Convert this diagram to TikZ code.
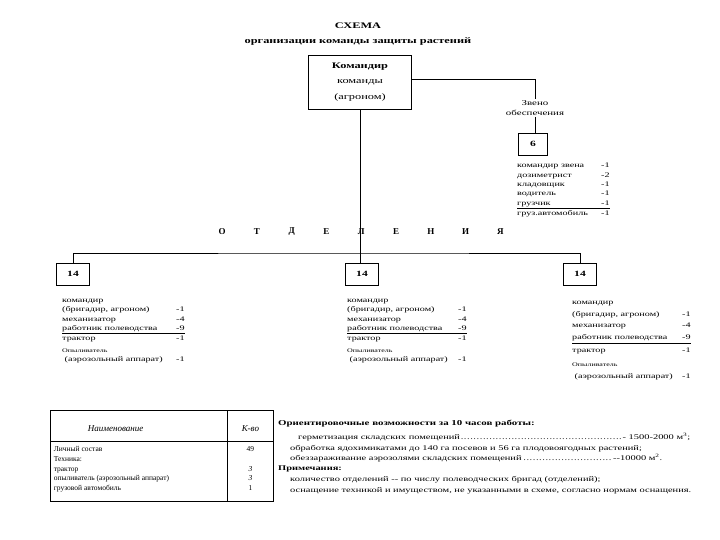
\documentclass[tikz,border=0pt]{standalone}
\usepackage{fontspec}
\usepackage{array}
\setmainfont{Liberation Serif}
\newfontfamily\widefont[FakeStretch=1.45]{Liberation Serif}
\usetikzlibrary{calc, positioning}

% staff of one department: #1 text column, #2 row spacing
\newcommand{\brigade}[2]{%
  \fontsize{7}{#2}\selectfont
  \begin{tabular}{@{}p{#1}@{}r@{}}
    командир & \\
    (бригадир, агроном) & -1\\
    механизатор & -4\\
    работник полеводства & -9\\ \noalign{\hrule height 0.9pt}
    трактор & -1\\[3pt]
    {\fontsize{5.5}{6}\selectfont Опыливатель} & \\
    \ (аэрозольный аппарат) & -1
  \end{tabular}}

\begin{document}
\begin{tikzpicture}[x=1pt, y=-1pt,
    unitbox/.style={draw, line width=0.8pt, minimum width=33pt, minimum height=22pt,
      inner sep=0pt, font=\widefont\bfseries\fontsize{8}{8}\selectfont},
    link/.style={line width=0.7pt},
    staff/.style={anchor=north west, inner sep=0pt, font=\widefont}]
  \useasboundingbox (0,0) rectangle (720,540);

  \node[align=center, font=\widefont\bfseries\fontsize{8.5}{15.5}\selectfont] (title) at (358,34)
    {СХЕМА\\организации команды защиты растений};

  % commander and supply unit
  \node[draw, line width=0.8pt, minimum width=103pt, minimum height=54pt, align=center,
    font=\widefont\fontsize{8.5}{15.5}\selectfont] (cmd) at (360,82)
    {\textbf{Командир}\\команды\\(агроном)};
  \node[align=center, inner sep=1pt, font=\widefont\fontsize{7.5}{10.5}\selectfont] (zveno) at (535,108)
    {Звено\\обеспечения};
  \node[unitbox, minimum width=29pt] (b6) at (533,144) {6};
  \node[staff] (supply) at (517,161) {\fontsize{7}{9.4}\selectfont
    \begin{tabular}{@{}p{84pt}@{}r@{}}
      командир звена & -1\\
      дозиметрист & -2\\
      кладовщик & -1\\
      водитель & -1\\
      грузчик & -1\\ \noalign{\hrule height 1pt}
      груз.автомобиль & -1
    \end{tabular}};
  \draw[link] ([yshift=3pt]cmd.east) -| (zveno.north);
  \draw[link] (zveno.south) -- (zveno.south |- b6.north);

  % departments
  \foreach \ch [count=\i] in {О,Т,Д,Е,Л,Е,Н,И,Я}
    \node[font=\bfseries\fontsize{9}{9}\selectfont] (sep\i) at ({222+(\i-1)*34.8},232) {\ch};
  \node[unitbox] (left) at (73,274) {14};
  \node[unitbox] (mid) at (362,274) {14};
  \node[unitbox] (right) at (580,274) {14};
  \coordinate (bus) at (360,253);
  \draw[link] (cmd.south) -- (bus);
  \draw[link] (left.north) |- (bus) -| (right.north);
  \draw[link] (bus) -- (bus |- mid.north);
  \node[staff] (leftstaff) at (62,296) {\brigade{114pt}{9.2}};
  \node[staff] (midstaff) at (347,296) {\brigade{111pt}{9.2}};
  \node[staff] (rightstaff) at (572,296) {\brigade{110pt}{11.7}};

  % equipment table
  \node[anchor=north west, inner sep=0pt, font=\fontsize{7.5}{9.8}\selectfont] (spec) at (50,410) {%
    \setlength{\tabcolsep}{3pt}\setlength{\arrayrulewidth}{0.6pt}%
    \begin{tabular}{|p{170pt}|>{\centering\arraybackslash}p{40pt}|}
      \hline
      \rule[-9pt]{0pt}{30pt}\hspace*{34pt}\fontsize{9}{9}\itshape Наименование &
        \fontsize{9}{9}\itshape К-во\\ \hline
      \rule{0pt}{10pt}Личный состав & 49\\
      Техника: & \\
      трактор & \textit{3}\\
      опыливатель (аэрозольный аппарат) & \textit{3}\\
      грузовой автомобиль\rule[-10pt]{0pt}{0pt} & 1\\ \hline
    \end{tabular}};

  % capabilities and notes
  \node[anchor=north west, inner sep=0pt, align=left, font=\widefont\fontsize{7.2}{10.8}\selectfont] (notes) at (278,420) {%
    {\bfseries\fontsize{7.5}{10.8}\selectfont Ориентировочные возможности за 10 часов работы:}\\[3pt]
    \hspace*{20pt}\makebox[392pt][l]{герметизация складских помещений\dotfill- 1500-2000 м\textsuperscript{3};}\\
    \hspace*{12pt}обработка ядохимикатами до 140 га посевов и 56 га плодовоягодных растений;\\
    \hspace*{12pt}\makebox[372pt][l]{обеззараживание аэрозолями складских помещений\dotfill--10000 м\textsuperscript{2}.}\\[-1pt]
    {\bfseries Примечания:}\\
    \hspace*{12pt}количество отделений -- по числу полеводческих бригад (отделений);\\
    \hspace*{12pt}оснащение техникой и имуществом, не указанными в схеме, согласно нормам оснащения.};
\end{tikzpicture}
\end{document}
